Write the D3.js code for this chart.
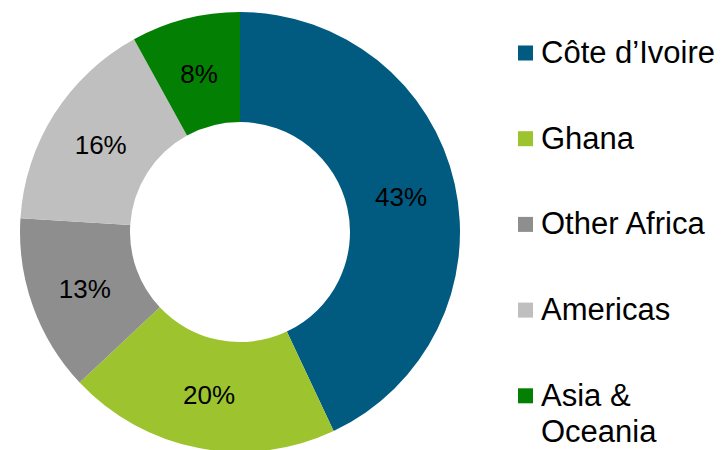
<!DOCTYPE html>
<meta charset="utf-8">
<style>
body { margin: 0; background: #fff; font-family: 'Liberation Sans', Arial, sans-serif; }
</style>
<body>
<svg class="donut"></svg>
<script src="https://d3js.org/d3.v7.min.js"></script>
<script>
// data
let regions = ['Côte d’Ivoire', 'Ghana', 'Other Africa', 'Americas', 'Asia & Oceania'];
let shares = [43, 20, 13, 16, 8];
let colorCode = ['#015B80', '#9DC42F', '#8E8E8E', '#BFBFBF', '#037F03'];
// legend labels, split over lines
let legendLines = [['Côte d’Ivoire'], ['Ghana'], ['Other Africa'], ['Americas'], ['Asia &', 'Oceania']];

let rwidth = 722, rheight = 450;
let cx = 240, cy = 232;
let outerR = 220, innerR = 110;

let svg = d3.select('.donut')
    .attr('width', rwidth)
    .attr('height', rheight);

let color = d3.scaleOrdinal().domain(regions).range(colorCode);

let data = regions.map((d, i) => ({name: d, value: shares[i]}));

let pie = d3.pie().sort(null).value(d => d.value);
let arc = d3.arc().innerRadius(innerR).outerRadius(outerR);

let g = svg.append('g').attr('transform', `translate(${cx},${cy})`);

let arcs = pie(data);

g.selectAll('path')
    .data(arcs)
    .join('path')
    .attr('d', arc)
    .attr('fill', d => color(d.data.name));

// percent labels at slice centroids
g.selectAll('text.pct')
    .data(arcs)
    .join('text')
    .attr('class', 'pct')
    .attr('transform', d => `translate(${arc.centroid(d)})`)
    .attr('text-anchor', 'middle')
    .attr('dy', '0.4em')
    .style('font-size', '26px')
    .style('fill', '#000')
    .text(d => d.data.value + '%');

// legend
let legend = svg.append('g').attr('transform', 'translate(518,0)');
let rowStep = 85.7, firstRow = 53;

let item = legend.selectAll('g')
    .data(regions)
    .join('g')
    .attr('transform', (d, i) => `translate(0,${firstRow + i * rowStep})`);

item.append('rect')
    .attr('x', 0)
    .attr('y', -7.5)
    .attr('width', 15)
    .attr('height', 15)
    .attr('fill', d => color(d));

item.append('text')
    .attr('x', 23)
    .attr('y', 10)
    .style('font-size', '31px')
    .style('fill', '#000')
    .selectAll('tspan')
    .data((d, i) => legendLines[i])
    .join('tspan')
    .attr('x', 23)
    .attr('dy', (d, j) => j == 0 ? 0 : 36.5)
    .text(d => d);
</script>
</body>
